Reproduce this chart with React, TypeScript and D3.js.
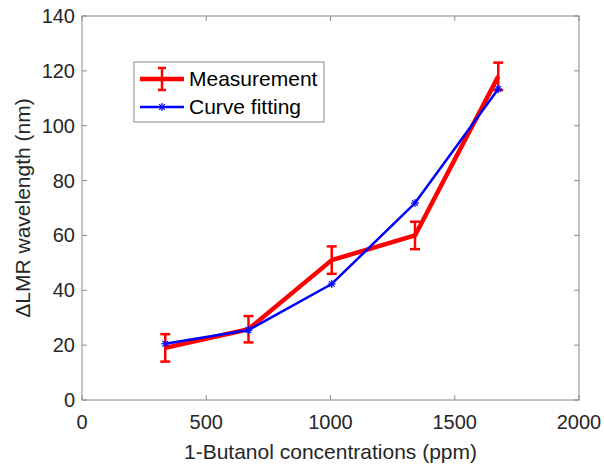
import React from "react";
import * as d3 from "d3";

const concentrations = [335, 670, 1005, 1340, 1675];
const measurement = [19, 25.8, 51, 60, 118];
const measurementErr = [5, 4.8, 5, 5, 5];
const curveFitting = [20.5, 25.5, 42.3, 71.8, 113.4];
const xTicks = [0, 500, 1000, 1500, 2000];
const yTicks = [0, 20, 40, 60, 80, 100, 120, 140];
const legendLabels = ["Measurement", "Curve fitting"];

const W = 604;
const H = 465;
const left = 82;
const right = 579;
const top = 16;
const bottom = 400;

export default function App() {
  const x = d3.scaleLinear().domain([0, 2000]).range([left, right]);
  const y = d3.scaleLinear().domain([0, 140]).range([bottom, top]);
  const line = d3
    .line<number>()
    .x((_, i) => x(concentrations[i]))
    .y((d) => y(d));
  const axisColor = "#8a8a8a";
  const textColor = "#262626";
  const font = "'Liberation Sans', Arial, Helvetica, sans-serif";
  const tick = 5;

  const star = (cx: number, cy: number, r: number, key: string) => (
    <g key={key} stroke="#0000ff" strokeWidth={1.2}>
      <line x1={cx - r} y1={cy} x2={cx + r} y2={cy} />
      <line x1={cx} y1={cy - r} x2={cx} y2={cy + r} />
      <line x1={cx - r * 0.7} y1={cy - r * 0.7} x2={cx + r * 0.7} y2={cy + r * 0.7} />
      <line x1={cx - r * 0.7} y1={cy + r * 0.7} x2={cx + r * 0.7} y2={cy - r * 0.7} />
    </g>
  );

  return (
    <svg width={W} height={H} style={{ position: "absolute", left: 0, top: 0 }} fontFamily={font}>
      <rect width={W} height={H} fill="#fff" />
      <rect x={left} y={top} width={right - left} height={bottom - top} fill="none" stroke={axisColor} strokeWidth={1} />
      {xTicks.map((t) => (
        <g key={"x" + t}>
          <line x1={x(t)} x2={x(t)} y1={bottom} y2={bottom - tick} stroke={axisColor} />
          <line x1={x(t)} x2={x(t)} y1={top} y2={top + tick} stroke={axisColor} />
          <text x={x(t)} y={bottom + 29} textAnchor="middle" fontSize={20} fill={textColor}>
            {t}
          </text>
        </g>
      ))}
      {yTicks.map((t) => (
        <g key={"y" + t}>
          <line x1={left} x2={left + tick} y1={y(t)} y2={y(t)} stroke={axisColor} />
          <line x1={right} x2={right - tick} y1={y(t)} y2={y(t)} stroke={axisColor} />
          <text x={left - 7} y={y(t) + 7} textAnchor="end" fontSize={20} fill={textColor}>
            {t}
          </text>
        </g>
      ))}
      <text x={(left + right) / 2 + 0} y={459} textAnchor="middle" fontSize={21} fill={textColor}>
        1-Butanol concentrations (ppm)
      </text>
      <text
        transform={`translate(${30},${(top + bottom) / 2}) rotate(-90)`}
        textAnchor="middle"
        fontSize={21}
        fill={textColor}
      >
        ΔLMR wavelength (nm)
      </text>

      <path d={line(measurement) || ""} fill="none" stroke="#ff0000" strokeWidth={4.5} strokeLinejoin="round" />
      {measurement.map((v, i) => {
        const cx = x(concentrations[i]);
        const y1 = y(v + measurementErr[i]);
        const y2 = y(v - measurementErr[i]);
        return (
          <g key={"e" + i} stroke="#ff0000" strokeWidth={2.5}>
            <line x1={cx} x2={cx} y1={y1} y2={y2} />
            <line x1={cx - 5} x2={cx + 5} y1={y1} y2={y1} />
            <line x1={cx - 5} x2={cx + 5} y1={y2} y2={y2} />
          </g>
        );
      })}

      <path d={line(curveFitting) || ""} fill="none" stroke="#0000ff" strokeWidth={2.5} strokeLinejoin="round" />
      {curveFitting.map((v, i) => star(x(concentrations[i]), y(v), 4, "s" + i))}

      <rect x={134} y={62} width={190} height={60} fill="#fff" stroke={axisColor} strokeWidth={1} />
      <g>
        <line x1={140} x2={184} y1={79} y2={79} stroke="#ff0000" strokeWidth={4.5} />
        <g stroke="#ff0000" strokeWidth={2.5}>
          <line x1={162} x2={162} y1={68} y2={90} />
          <line x1={158} x2={166} y1={68} y2={68} />
          <line x1={158} x2={166} y1={90} y2={90} />
        </g>
        <text x={189} y={86} fontSize={21} fill="#000">
          {legendLabels[0]}
        </text>
      </g>
      <g>
        <line x1={140} x2={184} y1={107} y2={107} stroke="#0000ff" strokeWidth={2.5} />
        {star(162, 107, 4, "legstar")}
        <text x={189} y={114} fontSize={21} fill="#000">
          {legendLabels[1]}
        </text>
      </g>
    </svg>
  );
}
